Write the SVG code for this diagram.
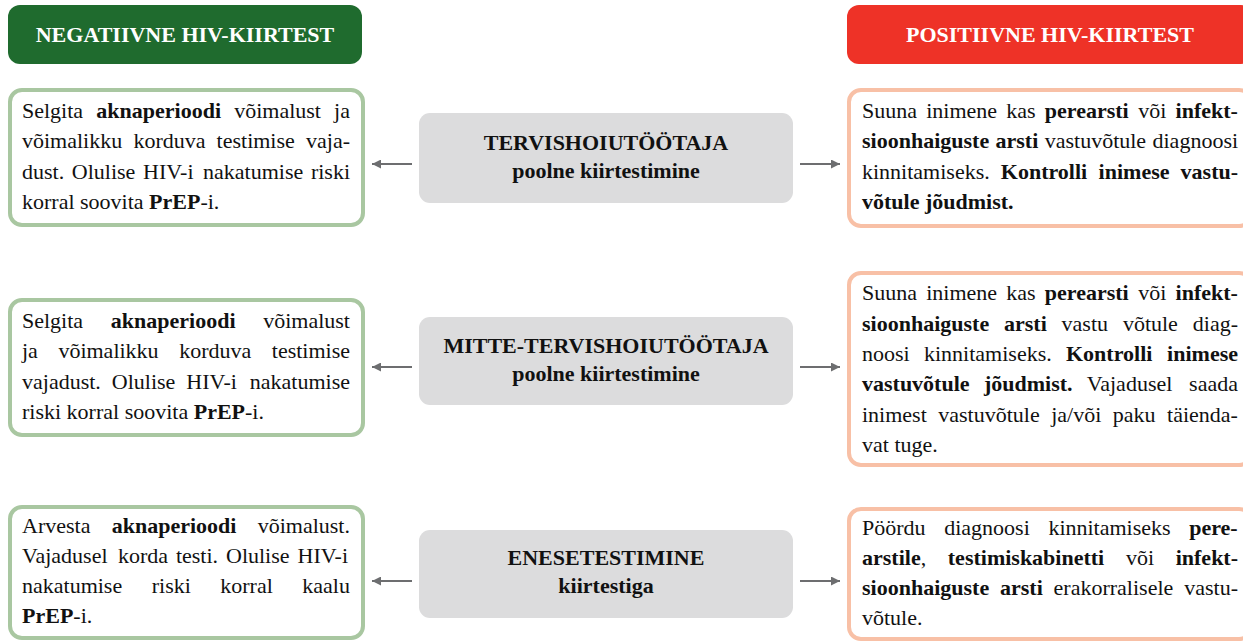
<svg xmlns="http://www.w3.org/2000/svg" width="1243" height="643" viewBox="0 0 1243 643">
<style>
text{font-family:'Liberation Serif','DejaVu Serif',serif;font-size:22px}
.t{fill:#111}
.b{font-weight:bold}
.h{font-weight:bold;fill:#fff;text-anchor:middle}
.c{font-weight:bold;fill:#111;text-anchor:middle}
.neg{fill:#fff;stroke:#a9c7a1;stroke-width:4}
.pos{fill:#fff;stroke:#f8c0a6;stroke-width:4}
.mid{fill:#dcdcdd}
.con{stroke:#6d6e70;stroke-width:2.2;fill:none;marker-end:url(#ah)}
</style>
<defs>
<marker id="ah" viewBox="0 0 10 10" refX="10" refY="5" markerWidth="11" markerHeight="9" orient="auto" markerUnits="userSpaceOnUse">
<path d="M0,0 L10,5 L0,10 z" fill="#6d6e70"/>
</marker>
</defs>
<rect width="1243" height="643" fill="#fff"/>

<g font-family="Liberation Serif, DejaVu Serif, serif">
<g id="header-neg">
<rect x="8" y="5" width="354" height="59" rx="12" fill="#1f6b2e"/>
<text class="h" x="185" y="42">NEGATIIVNE HIV-KIIRTEST</text>
</g>
<g id="header-pos">
<rect x="847" y="5" width="406" height="59" rx="12" fill="#ee3227"/>
<text class="h" x="1050" y="42">POSITIIVNE HIV-KIIRTEST</text>
</g>

<g id="neg-1">
<rect class="neg" x="10" y="90" width="353" height="135" rx="12"/>
<text class="t" y="118"><tspan x="22">Selgita</tspan><tspan x="96.3" class="b">aknaperioodi</tspan><tspan x="234.2">võimalust</tspan><tspan x="334.1">ja</tspan></text>
<text class="t" y="148"><tspan x="22">võimalikku</tspan><tspan x="133.4">korduva</tspan><tspan x="216.6">testimise</tspan><tspan x="306">vaja-</tspan></text>
<text class="t" y="179"><tspan x="22">dust.</tspan><tspan x="71.8">Olulise</tspan><tspan x="143">HIV-i</tspan><tspan x="203.1">nakatumise</tspan><tspan x="310.9">riski</tspan></text>
<text class="t" x="22" y="209">korral soovita <tspan class="b">PrEP</tspan>-i.</text>
</g>

<g id="mid-1">
<rect class="mid" x="419" y="113" width="374" height="90" rx="11"/>
<text class="c" x="606" y="150">TERVISHOIUTÖÖTAJA</text>
<text class="c" x="606" y="178">poolne kiirtestimine</text>
</g>

<g id="pos-1">
<rect class="pos" x="849" y="90" width="402" height="136" rx="12"/>
<text class="t" y="118"><tspan x="862">Suuna</tspan><tspan x="926.2">inimene</tspan><tspan x="1006.3">kas</tspan><tspan x="1044.8" class="b">perearsti</tspan><tspan x="1138.3">või</tspan><tspan x="1175.6" class="b">infekt-</tspan></text>
<text class="t" y="148"><tspan x="862" class="b">sioonhaiguste</tspan><tspan x="995.5" class="b">arsti</tspan><tspan x="1044.7">vastuvõtule</tspan><tspan x="1152.5">diagnoosi</tspan></text>
<text class="t" y="179"><tspan x="862">kinnitamiseks.</tspan><tspan x="1000.8" class="b">Kontrolli</tspan><tspan x="1098.6" class="b">inimese</tspan><tspan x="1180.6" class="b">vastu-</tspan></text>
<text class="t b" x="862" y="209">võtule jõudmist.</text>
</g>

<g id="neg-2">
<rect class="neg" x="10" y="300" width="353" height="135" rx="12"/>
<text class="t" y="328"><tspan x="22">Selgita</tspan><tspan x="110.8" class="b">aknaperioodi</tspan><tspan x="263.2">võimalust</tspan></text>
<text class="t" y="358"><tspan x="22">ja</tspan><tspan x="58.4">võimalikku</tspan><tspan x="179.2">korduva</tspan><tspan x="271.8">testimise</tspan></text>
<text class="t" y="389"><tspan x="22">vajadust.</tspan><tspan x="111.8">Olulise</tspan><tspan x="186.3">HIV-i</tspan><tspan x="249.8">nakatumise</tspan></text>
<text class="t" x="22" y="419">riski korral soovita <tspan class="b">PrEP</tspan>-i.</text>
</g>

<g id="mid-2">
<rect class="mid" x="419" y="317" width="374" height="88" rx="11"/>
<text class="c" x="606" y="353">MITTE-TERVISHOIUTÖÖTAJA</text>
<text class="c" x="606" y="381">poolne kiirtestimine</text>
</g>

<g id="pos-2">
<rect class="pos" x="849" y="273" width="402" height="192" rx="12"/>
<text class="t" y="300"><tspan x="862">Suuna</tspan><tspan x="926.2">inimene</tspan><tspan x="1006.3">kas</tspan><tspan x="1044.8" class="b">perearsti</tspan><tspan x="1138.3">või</tspan><tspan x="1175.6" class="b">infekt-</tspan></text>
<text class="t" y="331"><tspan x="862" class="b">sioonhaiguste</tspan><tspan x="1004" class="b">arsti</tspan><tspan x="1061.6">vastu</tspan><tspan x="1122.9">võtule</tspan><tspan x="1192.8">diag-</tspan></text>
<text class="t" y="361"><tspan x="862">noosi</tspan><tspan x="924">kinnitamiseks.</tspan><tspan x="1066" class="b">Kontrolli</tspan><tspan x="1167.1" class="b">inimese</tspan></text>
<text class="t" y="391"><tspan x="862" class="b">vastuvõtule</tspan><tspan x="983.9" class="b">jõudmist.</tspan><tspan x="1086.8">Vajadusel</tspan><tspan x="1189.1">saada</tspan></text>
<text class="t" y="422"><tspan x="862">inimest</tspan><tspan x="938.3">vastuvõtule</tspan><tspan x="1051.2">ja/või</tspan><tspan x="1112.8">paku</tspan><tspan x="1167.1">täienda-</tspan></text>
<text class="t" x="862" y="452">vat tuge.</text>
</g>

<g id="neg-3">
<rect class="neg" x="10" y="507" width="353" height="131" rx="12"/>
<text class="t" y="533"><tspan x="22">Arvesta</tspan><tspan x="111.7" class="b">aknaperioodi</tspan><tspan x="257.7">võimalust.</tspan></text>
<text class="t" y="563"><tspan x="22">Vajadusel</tspan><tspan x="117.9">korda</tspan><tspan x="175.9">testi.</tspan><tspan x="226">Olulise</tspan><tspan x="297.5">HIV-i</tspan></text>
<text class="t" y="593"><tspan x="22">nakatumise</tspan><tspan x="151.7">riski</tspan><tspan x="220.3">korral</tspan><tspan x="302.3">kaalu</tspan></text>
<text class="t" x="22" y="623"><tspan class="b">PrEP</tspan>-i.</text>
</g>

<g id="mid-3">
<rect class="mid" x="419" y="530" width="374" height="88" rx="11"/>
<text class="c" x="606" y="565">ENESETESTIMINE</text>
<text class="c" x="606" y="593">kiirtestiga</text>
</g>

<g id="pos-3">
<rect class="pos" x="849" y="509" width="402" height="130" rx="12"/>
<text class="t" y="535"><tspan x="862">Pöördu</tspan><tspan x="944.2">diagnoosi</tspan><tspan x="1048.4">kinnitamiseks</tspan><tspan x="1189.2" class="b">pere-</tspan></text>
<text class="t" y="565"><tspan x="862" class="b">arstile</tspan><tspan>,</tspan><tspan x="947.8" class="b">testimiskabinetti</tspan><tspan x="1125.9">või</tspan><tspan x="1175.7" class="b">infekt-</tspan></text>
<text class="t" y="595"><tspan x="862" class="b">sioonhaiguste</tspan><tspan x="1000" class="b">arsti</tspan><tspan x="1053.6">erakorralisele</tspan><tspan x="1184.2">vastu-</tspan></text>
<text class="t" x="862" y="625">võtule.</text>
</g>
</g>

<g id="connectors">
<line class="con" x1="412" y1="164" x2="372" y2="164"/>
<line class="con" x1="800" y1="164" x2="840" y2="164"/>
<line class="con" x1="412" y1="367" x2="372" y2="367"/>
<line class="con" x1="800" y1="367" x2="840" y2="367"/>
<line class="con" x1="412" y1="581" x2="372" y2="581"/>
<line class="con" x1="800" y1="581" x2="840" y2="581"/>
</g>
</svg>
